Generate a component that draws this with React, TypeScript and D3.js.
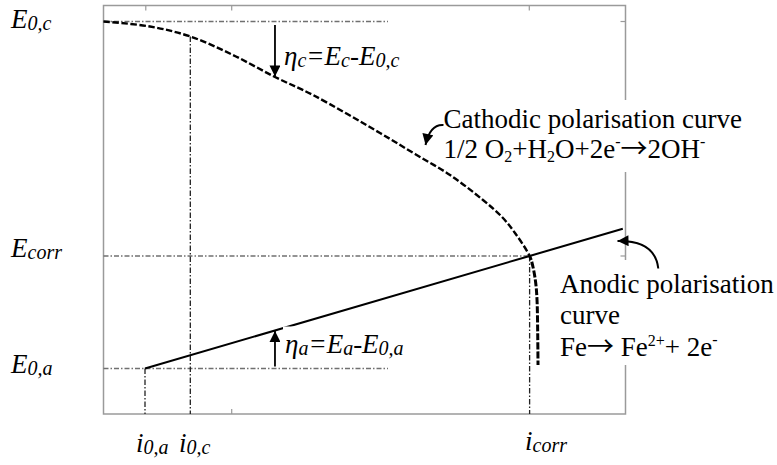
import React from 'react';
import * as d3 from 'd3';

const W = 777;
const H = 465;

// Characteristic values (arbitrary units: current i on x, potential E on y)
const E0c = 9.608;
const Ecorr = 3.868;
const E0a = 1.114;
const i0a = 0.795;
const i0c = 1.663;
const icorr = 8.163;
const guideEnd = 5.45;

// Cathodic polarisation curve (dashed)
const cathodicI = [0, 0.891, 1.663, 2.481, 3.285, 4.013, 5.297, 5.967, 6.638, 7.27, 7.634, 7.883, 8.163, 8.228, 8.28, 8.305, 8.318, 8.324];
const cathodicE = [9.608, 9.486, 9.241, 8.788, 8.25, 7.809, 6.879, 6.365, 5.851, 5.239, 4.823, 4.431, 3.868, 3.598, 3.207, 2.791, 1.983, 1.2];

// Anodic polarisation line (solid)
const anodicI = [0.795, 8.163, 9.948];
const anodicE = [1.114, 3.868, 4.535];

// Frame tick marks
const frameTicksTop = [0.81, 2.456, 8.157];
const frameTicksBottom = [2.456];
const frameTicksRight = [9.608, 3.868];

// Overpotential arrows position
const etaI = 3.285;

const FONT = "'Liberation Serif', 'Times New Roman', serif";
const ARROW_FONT = "'Noto Sans CJK JP', 'DejaVu Sans', sans-serif";

export default function App() {
  const x = d3.scaleLinear().domain([0, 10]).range([103.5, 625.5]);
  const y = d3.scaleLinear().domain([0, 10]).range([414, 5.5]);

  const cathodic = cathodicI.map((v, k) => [v, cathodicE[k]] as [number, number]);
  const anodic = anodicI.map((v, k) => [v, anodicE[k]] as [number, number]);

  const line = d3
    .line<[number, number]>()
    .x((d) => x(d[0]))
    .y((d) => y(d[1]))
    .curve(d3.curveCatmullRom.alpha(0.5));
  const straight = d3
    .line<[number, number]>()
    .x((d) => x(d[0]))
    .y((d) => y(d[1]));

  const cathD = line(cathodic) || '';
  const anodD = straight(anodic) || '';

  const x0 = x(0), x1 = x(10), y0 = y(0), y1 = y(10);
  const yEc = y(Ecorr);

  const anodicAt = (i: number) => E0a + ((Ecorr - E0a) / (icorr - i0a)) * (i - i0a);

  const hGuide = { stroke: '#707070', strokeWidth: 1.3, strokeDasharray: '5 2 1.5 2', fill: 'none' };
  const vGuide = { stroke: '#222', strokeWidth: 1.3, strokeDasharray: '5.5 2 1.5 2', fill: 'none' };

  // annotation arrow paths (in data coordinates)
  const cathArrow = d3.path();
  cathArrow.moveTo(x(6.513), y(7.075));
  cathArrow.quadraticCurveTo(x(6.255), y(7.099), x(6.169), y(6.585));
  const anodArrow = d3.path();
  anodArrow.moveTo(x(10.628), y(3.562));
  anodArrow.quadraticCurveTo(x(10.565), y(4.259), x(9.847), y(4.235));

  return (
    <svg
      width={W}
      height={H}
      style={{ position: 'absolute', left: 0, top: 0, background: '#fff' }}
      fontFamily={FONT}
    >
      <defs>
        <marker
          id="ah"
          viewBox="0 0 10 10"
          refX={10}
          refY={5}
          markerUnits="userSpaceOnUse"
          markerWidth={13}
          markerHeight={11}
          orient="auto"
        >
          <path d="M0,0 L10,5 L0,10 z" fill="#000" />
        </marker>
        <clipPath id="upper">
          <rect x={0} y={0} width={W} height={yEc} />
        </clipPath>
        <clipPath id="lower">
          <rect x={0} y={yEc} width={W} height={H - yEc} />
        </clipPath>
      </defs>

      {/* frame */}
      <rect x={x0} y={y1} width={x1 - x0} height={y0 - y1} fill="none" stroke="#9a9a9a" strokeWidth={1.5} />
      {frameTicksTop.map((t) => (
        <line key={'tt' + t} x1={x(t)} x2={x(t)} y1={y1} y2={y1 + 5} stroke="#9a9a9a" strokeWidth={1.2} />
      ))}
      {frameTicksBottom.map((t) => (
        <line key={'tb' + t} x1={x(t)} x2={x(t)} y1={y0} y2={y0 - 5} stroke="#9a9a9a" strokeWidth={1.2} />
      ))}
      {frameTicksRight.map((t) => (
        <line key={'tr' + t} x1={x1} x2={x1 - 5} y1={y(t)} y2={y(t)} stroke="#9a9a9a" strokeWidth={1.2} />
      ))}

      {/* guide lines */}
      <line x1={x(0)} x2={x(guideEnd)} y1={y(E0c)} y2={y(E0c)} {...hGuide} />
      <line x1={x(0)} x2={x(icorr)} y1={y(Ecorr)} y2={y(Ecorr)} {...hGuide} />
      <line x1={x(0)} x2={x(guideEnd)} y1={y(E0a)} y2={y(E0a)} {...hGuide} />
      <line x1={x(i0a)} x2={x(i0a)} y1={y(E0a)} y2={y(0)} {...vGuide} />
      <line x1={x(i0c)} x2={x(i0c)} y1={y(cathodicE[2])} y2={y(0)} {...vGuide} />
      <line x1={x(icorr)} x2={x(icorr)} y1={y(Ecorr)} y2={y(0)} {...vGuide} />

      {/* text background boxes */}
      <rect x={560} y={100} width={217} height={72} fill="#fff" />
      <rect x={555} y={260} width={222} height={105} fill="#fff" />

      {/* anodic line */}
      <path d={anodD} fill="none" stroke="#000" strokeWidth={2} />

      {/* cathodic curve */}
      <path d={cathD} fill="none" stroke="#000" strokeWidth={2.4} strokeDasharray="6.5 2.5" clipPath="url(#upper)" />
      <path d={cathD} fill="none" stroke="#000" strokeWidth={3} strokeDasharray="7 2" clipPath="url(#lower)" />

      {/* eta_a label background */}
      <rect x={283} y={326.5} width={122} height={30} fill="#fff" />

      {/* overpotential arrows */}
      <line x1={x(etaI)} x2={x(etaI)} y1={y(E0c) + 3.5} y2={y(cathodicE[4]) - 0.5} stroke="#000" strokeWidth={1.8} markerEnd="url(#ah)" />
      <line x1={x(etaI)} x2={x(etaI)} y1={y(E0a) - 2} y2={y(anodicAt(etaI)) + 0.5} stroke="#000" strokeWidth={1.8} markerEnd="url(#ah)" />

      {/* curved annotation arrows */}
      <path d={cathArrow.toString()} fill="none" stroke="#000" strokeWidth={2} markerEnd="url(#ah)" />
      <path d={anodArrow.toString()} fill="none" stroke="#000" strokeWidth={2} markerEnd="url(#ah)" />

      {/* axis-side labels */}
      <g fontSize={27} fontStyle="italic" fill="#000">
        <text x={11} y={28.3}>
          E<tspan fontSize={20} dy={2}>0,c</tspan>
        </text>
        <text x={11} y={256.7}>
          E<tspan fontSize={20} dy={2}>corr</tspan>
        </text>
        <text x={11} y={372.7}>
          E<tspan fontSize={20} dy={2}>0,a</tspan>
        </text>
        <text x={136} y={452}>
          i<tspan fontSize={20} dy={2}>0,a</tspan>
        </text>
        <text x={179} y={452}>
          i<tspan fontSize={20} dy={2}>0,c</tspan>
        </text>
        <text x={525} y={450}>
          i<tspan fontSize={20} dy={2}>corr</tspan>
        </text>

        <text x={284} y={65}>
          η<tspan fontSize={20} dy={2}>c</tspan>
          <tspan dy={-2}>=E</tspan>
          <tspan fontSize={20} dy={2}>c</tspan>
          <tspan dy={-2}>-E</tspan>
          <tspan fontSize={20} dy={2}>0,c</tspan>
        </text>
        <text x={285} y={352.7}>
          η<tspan fontSize={20} dy={2}>a</tspan>
          <tspan dy={-2}>=E</tspan>
          <tspan fontSize={20} dy={2}>a</tspan>
          <tspan dy={-2}>-E</tspan>
          <tspan fontSize={20} dy={2}>0,a</tspan>
        </text>
      </g>

      {/* curve descriptions */}
      <g fontSize={27} fill="#000">
        <text x={443.5} y={128.3}>Cathodic polarisation curve</text>
        <text x={443.5} y={158.3}>
          1/2 O<tspan fontSize={16} dy={4}>2</tspan>
          <tspan dy={-4}>+H</tspan>
          <tspan fontSize={16} dy={4}>2</tspan>
          <tspan dy={-4}>O+2e</tspan>
          <tspan fontSize={16} dy={-11}>-</tspan>
          <tspan dy={11} fontFamily={ARROW_FONT} fontSize={27}>→</tspan>
          <tspan>2OH</tspan>
          <tspan fontSize={16} dy={-11}>-</tspan>
        </text>
        <text x={560} y={293.3}>Anodic polarisation</text>
        <text x={560} y={324}>curve</text>
        <text x={560} y={356}>
          Fe<tspan fontFamily={ARROW_FONT} fontSize={27}>→</tspan>
          <tspan> Fe</tspan>
          <tspan fontSize={16} dy={-10}>2+</tspan>
          <tspan dy={10}>+ 2e</tspan>
          <tspan fontSize={16} dy={-11}>-</tspan>
        </text>
      </g>
    </svg>
  );
}
